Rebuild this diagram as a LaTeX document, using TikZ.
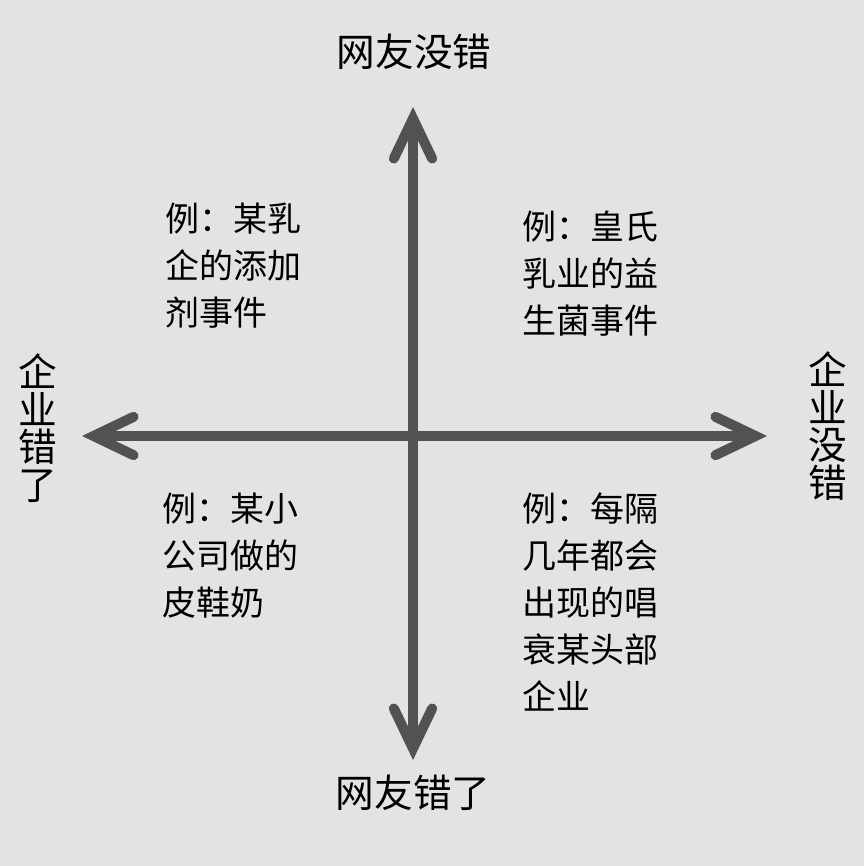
\documentclass[tikz,border=0pt]{standalone}
\usepackage{xcolor}
\usepackage{fontspec}
\usepackage{tikz}
\usetikzlibrary{arrows.meta}
\newfontfamily\cjk{Noto Sans CJK SC}
\definecolor{bggray}{RGB}{227,227,227}
\definecolor{axisgray}{RGB}{82,82,82}

\begin{document}
\begin{tikzpicture}[x=0.03cm,y=-0.03cm,
    axis/.style={draw=axisgray,line width=0.3cm,
      {Straight Barb[length=1.2cm,width=1.15cm,line cap=round,line join=miter]}-{Straight Barb[length=1.2cm,width=1.15cm,line cap=round,line join=miter]}},
    axislabel/.style={font=\cjk\fontsize{33}{32}\selectfont,inner sep=0pt,align=center},
    example/.style={font=\cjk\fontsize{29}{40}\selectfont,inner sep=0pt,align=left,anchor=north west}]
    \fill[bggray] (0,0) rectangle (864,866);
    \useasboundingbox (0,0) rectangle (864,866);

    \coordinate (up) at (413,107);
    \coordinate (down) at (413,760);
    \coordinate (left) at (82,436);
    \coordinate (right) at (767,436);

    \draw[axis] (down) -- (up);
    \draw[axis] (left) -- (right);

    \node[axislabel] (top) at (414,52) {网友没错};
    \node[axislabel] (bottom) at (413,793) {网友错了};
    \node[axislabel] (west) at (38,428) {企\\业\\错\\了};
    \node[axislabel] (east) at (828,426) {企\\业\\没\\错};

    \node[example] (q1) at (165,203) {例：某乳\\企的添加\\剂事件};
    \node[example] (q2) at (522,211) {例：皇氏\\乳业的益\\生菌事件};
    \node[example] (q3) at (162,493) {例：某小\\公司做的\\皮鞋奶};
    \node[example] (q4) at (522,493) {例：每隔\\几年都会\\出现的唱\\衰某头部\\企业};
  \end{tikzpicture}
\end{document}
